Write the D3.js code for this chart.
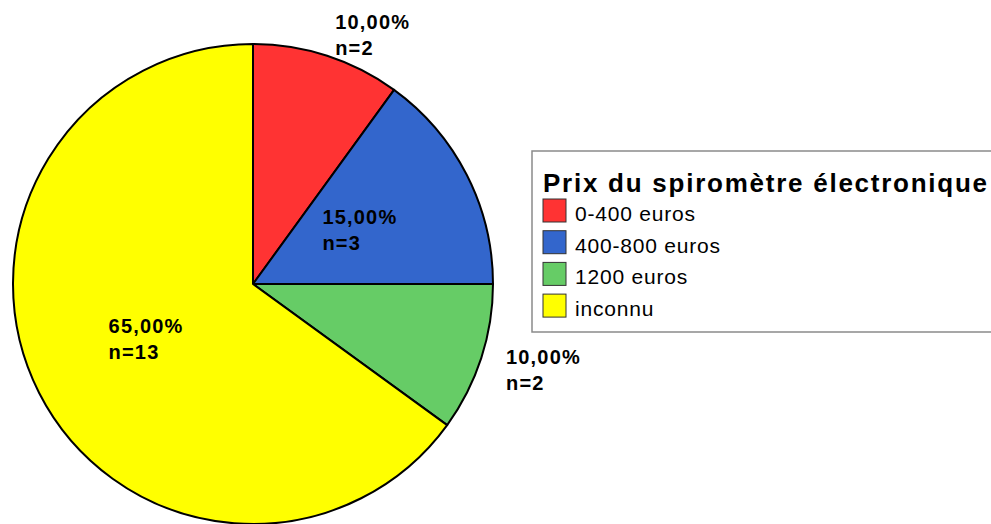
<!DOCTYPE html>
<html>
<head>
<meta charset="utf-8">
<script src="https://cdn.jsdelivr.net/npm/d3@7"></script>
<style>
  body { margin: 0; background: #fff; }
  svg { display: block; font-family: "Liberation Sans", Arial, sans-serif; }
</style>
</head>
<body>
<svg width="991" height="524"></svg>
<script>
const W = 991;
const H = 524;

// data
const categories = ['0-400 euros', '400-800 euros', '1200 euros', 'inconnu'];
const counts = [2, 3, 2, 13];
const percents = ['10,00%', '15,00%', '10,00%', '65,00%'];
const colors = ['#ff3333', '#3366cc', '#66cc66', '#ffff00'];
const title = 'Prix du spiromètre électronique';

const CX = 253;
const CY = 284;
const R = 240;

const svg = d3.select('svg');

const pie = d3.pie().sort(null).value(d => d.n);
const data = categories.map((c, i) => ({ cat: c, n: counts[i], pct: percents[i], color: colors[i] }));
const arcs = pie(data);

const arc = d3.arc().innerRadius(0).outerRadius(R);

const g = svg.append('g').attr('transform', 'translate(' + CX + ',' + CY + ')');

g.selectAll('path')
    .data(arcs)
    .enter()
    .append('path')
    .attr('d', arc)
    .attr('fill', d => d.data.color)
    .attr('stroke', '#000')
    .attr('stroke-width', 2)
    .attr('stroke-linejoin', 'round');

// labels: small slices outside, big ones inside (left aligned block)
const total = d3.sum(counts);
const OUT_R = 266;
const LINE = 26;

arcs.forEach(d => {
    const share = d.data.n / total;
    const a = (d.startAngle + d.endAngle) / 2;
    const inside = share > 0.1;
    let x, cy;
    if (!inside) {
        x = Math.sin(a) * OUT_R;
        cy = -Math.cos(a) * OUT_R + 4;
    } else {
        const c = arc.centroid(d);
        x = c[0];
        cy = c[1];
    }
    const base1 = cy - 5.75;
    const t = g.append('text')
        .attr('font-size', 20)
        .attr('font-weight', 'bold')
        .attr('letter-spacing', 1.2)
        .attr('fill', '#000');
    const l1 = t.append('tspan').attr('x', x).attr('y', base1).text(d.data.pct);
    const l2 = t.append('tspan').attr('x', x).attr('y', base1 + LINE).text('n=' + d.data.n);
    if (inside) {
        const w = Math.max(l1.node().getComputedTextLength(), l2.node().getComputedTextLength());
        l1.attr('x', x - w / 2);
        l2.attr('x', x - w / 2);
    }
});

// legend
const LX = 532, LY = 151;
svg.append('rect')
    .attr('x', LX)
    .attr('y', LY)
    .attr('width', W - LX + 10)
    .attr('height', 181)
    .attr('fill', '#fff')
    .attr('stroke', '#8a8a8a')
    .attr('stroke-width', 1.5);

svg.append('text')
    .attr('x', 543)
    .attr('y', 192)
    .attr('font-size', 26)
    .attr('font-weight', 'bold')
    .attr('letter-spacing', 1.75)
    .text(title);

const rowY = d3.scaleLinear().domain([0, 1]).range([199, 230.7]);

const items = svg.selectAll('g.item')
    .data(data)
    .enter()
    .append('g')
    .attr('class', 'item')
    .attr('transform', (d, i) => 'translate(543,' + rowY(i) + ')');

items.append('rect')
    .attr('width', 23)
    .attr('height', 23)
    .attr('fill', d => d.color)
    .attr('stroke', '#333')
    .attr('stroke-width', 1);

items.append('text')
    .attr('x', 32)
    .attr('y', 22)
    .attr('font-size', 21)
    .attr('letter-spacing', 0.8)
    .text(d => d.cat);
</script>
</body>
</html>
